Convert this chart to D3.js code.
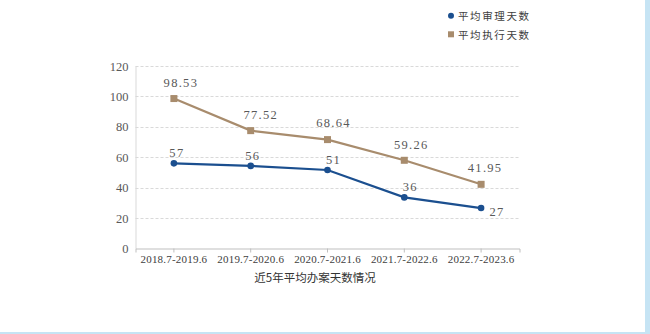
<!DOCTYPE html>
<html><head><meta charset="utf-8">
<script src="https://cdn.jsdelivr.net/npm/d3@7"></script>
<style>
html,body{margin:0;padding:0;background:#fff;}
svg{display:block;}
</style></head>
<body>
<svg id="chart" width="650" height="334"></svg>
<script>
const categories = ["2018.7-2019.6","2019.7-2020.6","2020.7-2021.6","2021.7-2022.6","2022.7-2023.6"];
const trialDays = [56.0, 54.3, 51.6, 33.6, 26.6];
const trialLabels = ["57","56","51","36","27"];
const execDays = [98.6, 77.5, 71.6, 58.0, 42.2];
const execLabels = ["98.53","77.52","68.64","59.26","41.95"];
const yTicks = [0,20,40,60,80,100,120];
const seriesNames = ["平均审理天数","平均执行天数"];
const title = "近5年平均办案天数情况";

(function(){
const blue = "#1b4f8f", brown = "#a88c6d";
const svg = d3.select("#chart");
const mLeft = 135.5, mRight = 519.5, mTop = 66, mBottom = 248.5;

// frame border on right and bottom
svg.append("rect").attr("x",645).attr("y",0).attr("width",5).attr("height",334).attr("fill","#c6e4f4");
svg.append("rect").attr("x",0).attr("y",332).attr("width",650).attr("height",2).attr("fill","#c6e4f4");

const x = d3.scaleBand().domain(categories).range([mLeft,mRight]);
const y = d3.scaleLinear().domain([0,120]).range([mBottom,mTop]);

// grid
svg.append("g").selectAll("line").data(yTicks.filter(d=>d>0)).join("line")
  .attr("x1",mLeft).attr("x2",mRight)
  .attr("y1",d=>Math.round(y(d))+0.5).attr("y2",d=>Math.round(y(d))+0.5)
  .attr("stroke","#d9d9d9").attr("stroke-dasharray","3,2").attr("stroke-width",1);

// y axis
const yAxis = svg.append("g").attr("transform",`translate(${mLeft},0)`)
  .call(d3.axisLeft(y).tickValues(yTicks).tickSize(0).tickPadding(7));
yAxis.select(".domain").attr("stroke","#d9d9d9");
yAxis.selectAll("text").style("font-family","'Liberation Serif', serif").style("font-size","12.5px").attr("fill","#595959");

// x axis
const xAxis = svg.append("g").attr("transform",`translate(0,${mBottom})`)
  .call(d3.axisBottom(x).tickSize(4).tickSizeOuter(4).tickPadding(3));
xAxis.select(".domain").attr("stroke","#bfbfbf");
xAxis.selectAll(".tick line").attr("stroke","#bfbfbf");
xAxis.selectAll("text").style("font-family","'Liberation Serif', serif").style("font-size","11px")
  .style("letter-spacing","0.2px").attr("fill","#404040").attr("dy","0.71em");

const cx = d => x(d) + x.bandwidth()/2;
const line = d3.line().x((d,i)=>cx(categories[i])).y(d=>y(d));

// exec series
svg.append("path").datum(execDays).attr("d",line).attr("fill","none").attr("stroke",brown).attr("stroke-width",2.2);
svg.append("g").selectAll("rect").data(execDays).join("rect")
  .attr("x",(d,i)=>cx(categories[i])-3.5).attr("y",d=>y(d)-3.5)
  .attr("width",7).attr("height",7).attr("fill",brown);

// trial series
svg.append("path").datum(trialDays).attr("d",line).attr("fill","none").attr("stroke",blue).attr("stroke-width",2.2);
svg.append("g").selectAll("circle").data(trialDays).join("circle")
  .attr("cx",(d,i)=>cx(categories[i])).attr("cy",d=>y(d)).attr("r",3.3).attr("fill",blue);

// labels
const lblFont = "'Liberation Serif', serif";
svg.append("g").selectAll("text").data(execLabels).join("text")
  .attr("x",(d,i)=>cx(categories[i])+[7,10,6,7,4][i])
  .attr("y",(d,i)=>y(execDays[i])-[12,12,13,11,12][i])
  .attr("text-anchor","middle").style("font-family",lblFont).style("font-size","12.5px")
  .style("letter-spacing","1.3px").attr("fill","#595959").text(d=>d);
svg.append("g").selectAll("text").data(trialLabels).join("text")
  .attr("x",(d,i)=>cx(categories[i])+[3,2,6,6,16][i])
  .attr("y",(d,i)=>i===4 ? y(trialDays[i])+8 : y(trialDays[i])-6)
  .attr("text-anchor","middle").style("font-family",lblFont).style("font-size","12.5px")
  .style("letter-spacing","1.3px").attr("fill","#595959").text(d=>d);

// title
svg.append("text").attr("x",315).attr("y",282).attr("text-anchor","middle")
  .style("font-family","'Noto Sans CJK SC', sans-serif").style("font-size","11.5px").attr("fill","#333")
  .text(title);

// legend
const lg = svg.append("g");
lg.append("circle").attr("cx",451).attr("cy",15.7).attr("r",3).attr("fill",blue);
lg.append("rect").attr("x",448).attr("y",31.3).attr("width",6).attr("height",6).attr("fill",brown);
lg.selectAll("text").data(seriesNames).join("text")
  .attr("x",458).attr("y",(d,i)=>[20,38.5][i])
  .style("font-family","'Noto Sans CJK SC', sans-serif").style("font-size","10.5px")
  .style("letter-spacing","1.6px").attr("fill","#404040").text(d=>d);
})();
</script>
</body></html>
